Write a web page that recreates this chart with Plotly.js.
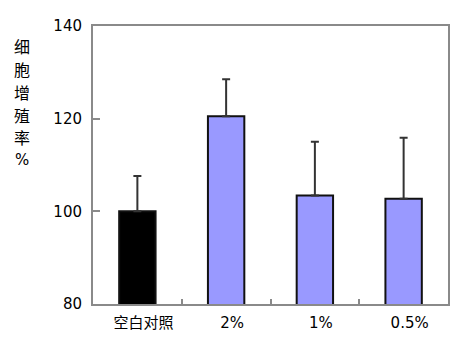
<!DOCTYPE html>
<html><head><meta charset="utf-8">
<script src="https://cdn.plot.ly/plotly-3.0.1.min.js"></script>
<style>body{margin:0;background:#fff}#c{width:469px;height:357px}</style>
</head><body><div id="c"></div>
<script>
const categories = ['空白对照', '2%', '1%', '0.5%'];
const values = [100, 120.5, 103.4, 102.7];
const errorsUp = [7.6, 8.0, 11.6, 13.2];
const barColors = ['#000000', '#9999ff', '#9999ff', '#9999ff'];
const yTicks = [80, 100, 120, 140];
const yTitleChars = ['细', '胞', '增', '殖', '率', '%'];

const trace = {
  type: 'bar', x: categories, y: values,
  marker: {color: barColors, line: {color: '#111', width: 2}},
  width: 0.41,
  error_y: {type: 'data', symmetric: false, array: errorsUp, arrayminus: [0,0,0,0],
            color: '#333', thickness: 2, width: 4},
  hoverinfo: 'none'
};
const charY = [46, 69, 92, 115, 137, 160];
const annotations = yTitleChars.map((ch, i) => ({
  xref: 'paper', yref: 'paper', x: (21.5 - 93) / 355, y: 1 - (charY[i] - 26) / 278,
  xanchor: 'center', yanchor: 'middle', text: ch, showarrow: false, borderpad: 0,
  font: {family: i === 5 ? 'DejaVu Sans, sans-serif' : 'Noto Sans CJK SC, sans-serif', size: i === 5 ? 15 : 16, color: '#000'}
}));
const layout = {
  width: 469, height: 357,
  margin: {l: 93, r: 21, t: 26, b: 53},
  paper_bgcolor: '#fff', plot_bgcolor: '#fff',
  showlegend: false,
  font: {family: 'DejaVu Sans, sans-serif', size: 14, color: '#000'},
  xaxis: {
    type: 'category', showline: true, linecolor: '#8a8a8a', linewidth: 2, mirror: true,
    ticks: 'inside', tickson: 'boundaries', ticklen: 5, tickcolor: '#8a8a8a', tickwidth: 2,
    showgrid: false, zeroline: false, ticklabelshift: 6, ticklabelstandoff: 4,
    tickfont: {family: 'DejaVu Sans, Noto Sans CJK SC, sans-serif', size: 15}
  },
  yaxis: {
    range: [80, 140], tickvals: yTicks, showline: true, linecolor: '#8a8a8a', linewidth: 2, mirror: true,
    ticks: 'inside', ticklen: 7, tickcolor: '#8a8a8a', tickwidth: 2,
    showgrid: false, zeroline: false, ticklabelstandoff: 6,
    tickfont: {family: 'DejaVu Sans, sans-serif', size: 15}
  },
  annotations: annotations
};
Plotly.newPlot('c', [trace], layout, {staticPlot: true});
</script></body></html>
